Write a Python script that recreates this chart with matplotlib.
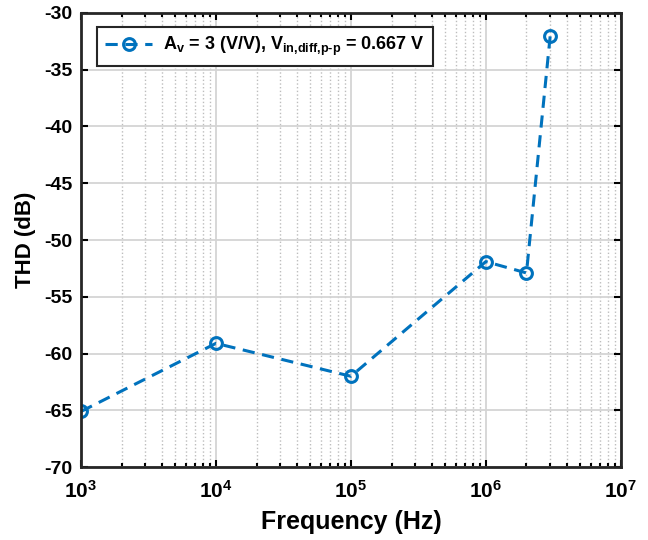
import matplotlib
matplotlib.use("Agg")
import matplotlib.pyplot as plt

# THD measurements
freq_hz = [1e3, 1e4, 1e5, 1e6, 2e6, 3e6]
thd_db = [-65.1, -59.1, -62.0, -51.9, -52.9, -32.0]
series_label = r"$A_v$ = 3 (V/V), $V_{in{,}diff{,}p\text{-}p}$ = 0.667 V"

plt.rcParams['font.family'] = ['Liberation Sans', 'DejaVu Sans']
plt.rcParams['font.weight'] = 'bold'
plt.rcParams['axes.unicode_minus'] = False
plt.rcParams['mathtext.fontset'] = 'custom'
plt.rcParams['mathtext.rm'] = 'Liberation Sans:bold'
plt.rcParams['mathtext.it'] = 'Liberation Sans:bold'
plt.rcParams['mathtext.bf'] = 'Liberation Sans:bold'
plt.rcParams['mathtext.default'] = 'rm'

fig = plt.figure(figsize=(6.48, 5.4), dpi=100)
ax = fig.add_axes([0.125, 0.135, 0.833, 0.841])

ax.semilogx(freq_hz, thd_db, linestyle='--', dashes=(4, 2.5), color='#0072BD',
            linewidth=2.2, marker='o', markersize=8.5, markerfacecolor='none',
            markeredgewidth=2.2, label=series_label)

ax.set_xlim(1e3, 1e7)
ax.set_ylim(-70, -30)
ax.set_yticks(range(-70, -29, 5))

ax.grid(True, which='major', color='#d4d4d4', linewidth=1.3)
ax.grid(True, which='minor', color='#bdbdbd', linestyle=':', linewidth=1)
ax.set_axisbelow(True)

ax.tick_params(which='both', direction='in', top=True, right=True, width=1.5)
ax.tick_params(axis='x', which='major', labelsize=15, pad=9)
ax.tick_params(axis='y', which='major', labelsize=14, pad=6)
ax.tick_params(which='major', length=5)
ax.tick_params(which='minor', length=3)
for s in ax.spines.values():
    s.set_linewidth(2)
    s.set_color('#262626')

ax.set_xlabel('Frequency (Hz)', fontsize=18, fontweight='bold', labelpad=6)
ax.set_ylabel('THD (dB)', fontsize=16, fontweight='bold', labelpad=6)

leg = ax.legend(loc='upper left', fontsize=13, fancybox=False,
                framealpha=1, edgecolor='#262626', borderpad=0.45,
                handlelength=2.6, handletextpad=0.6,
                bbox_to_anchor=(0.03, 0.969), borderaxespad=0)
leg.get_frame().set_linewidth(1.5)

fig.savefig('out.png', dpi=100)
